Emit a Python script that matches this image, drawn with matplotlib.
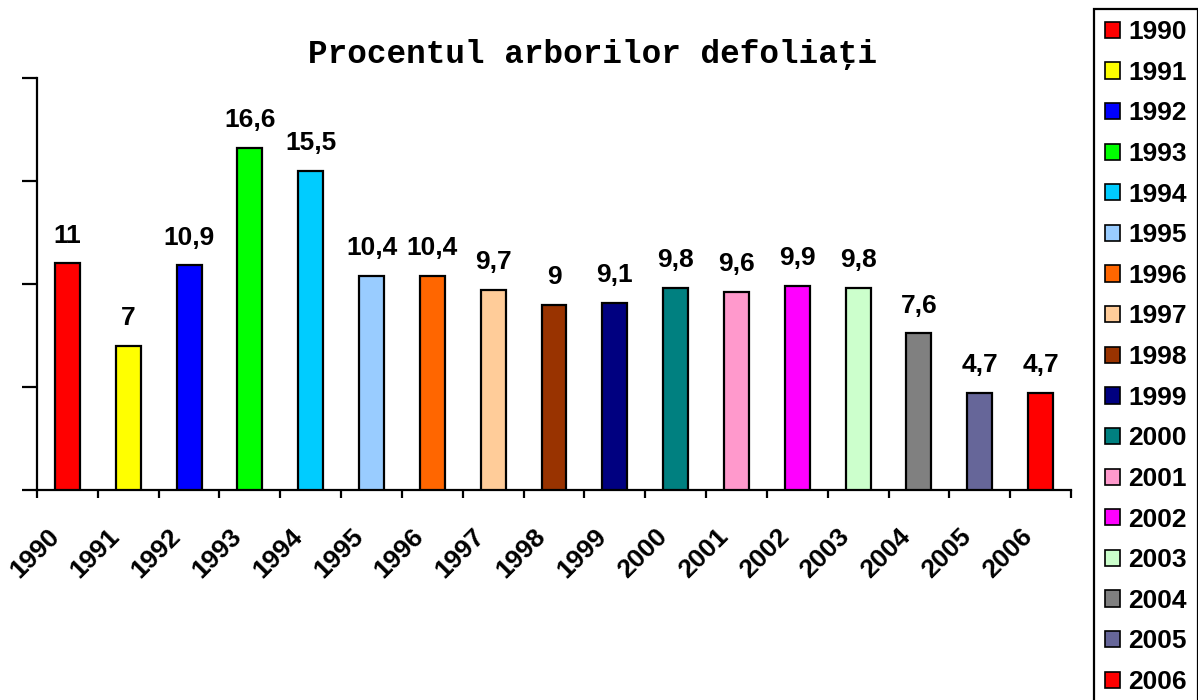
from matplotlib.pyplot import figure, savefig
from matplotlib.patches import Patch
from matplotlib.transforms import ScaledTranslation

OUTPUT_FILENAME = "out.png"
FIGURE_SIZE = (11.98, 7.0)
DPI = 100

YEARS = ["1990", "1991", "1992", "1993", "1994", "1995", "1996", "1997", "1998",
         "1999", "2000", "2001", "2002", "2003", "2004", "2005", "2006"]
PERCENT = [11, 7, 10.9, 16.6, 15.5, 10.4, 10.4, 9.7, 9, 9.1, 9.8, 9.6, 9.9, 9.8, 7.6, 4.7, 4.7]
COLORS = ["#FF0000", "#FFFF00", "#0000FF", "#00FF00", "#00CCFF", "#99CCFF", "#FF6600",
          "#FFCC99", "#993300", "#000080", "#008080", "#FF99CC", "#FF00FF", "#CCFFCC",
          "#808080", "#666699", "#FF0000"]
TITLE = "Procentul arborilor defoliaţi"

SANS = ["Liberation Sans", "DejaVu Sans"]
MONO = ["Liberation Mono", "DejaVu Sans Mono"]
FONT_SIZE = 19


def fmt(v):
    # zecimale cu virgula, ca in original
    return f"{v:g}".replace(".", ",")


def main():
    fig = figure(figsize=FIGURE_SIZE, dpi=DPI)
    ax = fig.add_axes([37 / 1198, 1 - 490 / 700, (1071 - 37) / 1198, (490 - 78) / 700])

    x = list(range(len(YEARS)))
    bars = ax.bar(x, PERCENT, width=0.41, color=COLORS, edgecolor="black", linewidth=1.6, zorder=3)

    for rect, v in zip(bars, PERCENT):
        ax.annotate(fmt(v), (rect.get_x() + rect.get_width() / 2, v),
                    xytext=(0, 15), textcoords="offset points",
                    ha="center", va="baseline", fontsize=FONT_SIZE,
                    fontweight="bold", family=SANS)

    ax.set_xlim(-0.5, len(YEARS) - 0.5)
    ax.set_ylim(0, 20)
    ax.set_yticks([0, 5, 10, 15, 20])
    ax.set_yticklabels([])
    ax.tick_params(axis="y", direction="out", length=11, width=1.6)

    # tick-uri intre categorii, etichete in centrul categoriilor
    ax.set_xticks([i - 0.5 for i in range(len(YEARS) + 1)])
    ax.set_xticklabels([])
    ax.tick_params(axis="x", which="major", direction="out", length=6, width=1.6)
    ax.set_xticks(x, minor=True)
    ax.set_xticklabels(YEARS, minor=True, rotation=45, ha="right", va="center",
                       rotation_mode="anchor", fontsize=FONT_SIZE, fontweight="bold",
                       family=SANS)
    ax.tick_params(axis="x", which="minor", length=0, pad=31)
    shift = ScaledTranslation(-0.12, 0, fig.dpi_scale_trans)
    for lbl in ax.get_xticklabels(minor=True):
        lbl.set_transform(lbl.get_transform() + shift)

    for side in ("top", "right"):
        ax.spines[side].set_visible(False)
    for side in ("left", "bottom"):
        ax.spines[side].set_linewidth(1.6)

    fig.text(593 / 1198, 1 - 55 / 700, TITLE, ha="center", va="center",
             fontsize=23.5, fontweight="bold", family=MONO)

    handles = [Patch(facecolor=c, edgecolor="black", linewidth=1.2, label=y)
               for c, y in zip(COLORS, YEARS)]
    leg = fig.legend(handles=handles, loc="upper left", bbox_to_anchor=(1094 / 1198, 1 - 9 / 700),
                     prop={"family": SANS, "weight": "bold", "size": FONT_SIZE},
                     frameon=True, fancybox=False, edgecolor="black", framealpha=1,
                     handlelength=0.57, handleheight=0.57, handletextpad=0.3,
                     labelspacing=0.63, borderpad=0.42, borderaxespad=0)
    leg.get_frame().set_linewidth(1.6)

    savefig(OUTPUT_FILENAME, dpi=DPI)


if __name__ == "__main__":
    main()
